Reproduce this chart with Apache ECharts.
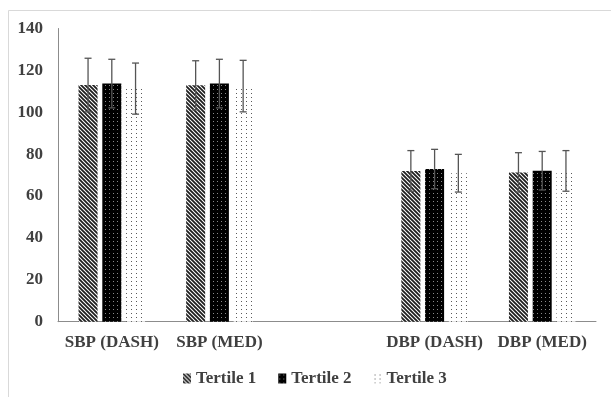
<!DOCTYPE html>
<html>
<head>
<meta charset="utf-8">
<script src="https://cdn.jsdelivr.net/npm/echarts@6/dist/echarts.min.js"></script>
<style>html,body{margin:0;padding:0;background:#fff}#c{width:611px;height:397px}</style>
</head>
<body>
<div id="c"></div>
<script>
// ---- data ----
const categories = ['SBP (DASH)', 'SBP (MED)', '', 'DBP (DASH)', 'DBP (MED)'];
const seriesNames = ['Tertile 1', 'Tertile 2', 'Tertile 3'];
const tertile1 = [113.0, 112.9, null, 72.0, 71.3];
const tertile2 = [113.7, 113.7, null, 72.9, 72.1];
const tertile3 = [111.3, 112.5, null, 70.9, 72.0];
const tertile1Err = [12.8, 11.7, null, 9.7, 9.4];
const tertile2Err = [11.6, 11.6, null, 9.4, 9.2];
const tertile3Err = [12.2, 12.3, null, 9.0, 9.7];
const yTicks = [0, 20, 40, 60, 80, 100, 120, 140];

// ---- patterns ----
function mk(w, h, draw) {
  const c = document.createElement('canvas');
  c.width = w; c.height = h;
  const g = c.getContext('2d');
  draw(g, w, h);
  return { image: c, repeat: 'repeat' };
}
const pat1 = mk(4, 4, (g, w, h) => {
  g.fillStyle = '#fff'; g.fillRect(0, 0, w, h);
  g.strokeStyle = '#1e1e1e'; g.lineWidth = 1.8;
  g.beginPath();
  g.moveTo(-1, -1); g.lineTo(5, 5);
  g.moveTo(3, -1); g.lineTo(5, 1);
  g.moveTo(-1, 3); g.lineTo(1, 5);
  g.stroke();
});
const pat2 = mk(4, 4, (g, w, h) => {
  g.fillStyle = '#000'; g.fillRect(0, 0, w, h);
  g.fillStyle = '#8a8a8a'; g.fillRect(1, 1, 1, 1);
});
const pat3 = mk(5, 4, (g, w, h) => {
  g.fillStyle = '#fff'; g.fillRect(0, 0, w, h);
  g.fillStyle = '#5a5a5a'; g.fillRect(1, 1, 1, 1);
});
const patterns = [pat1, pat2, pat3];
const values = [tertile1, tertile2, tertile3];
const errs = [tertile1Err, tertile2Err, tertile3Err];

const BAR_W = 19, GAP = 4.75;
const offsets = [-(BAR_W + GAP), 0, BAR_W + GAP];

const series = [];
seriesNames.forEach((n, i) => {
  series.push({
    name: n, type: 'bar', data: values[i], barWidth: BAR_W, barGap: (GAP / BAR_W * 100) + '%',
    itemStyle: { color: patterns[i] }, silent: true
  });
});
seriesNames.forEach((n, i) => {
  const d = values[i].map((v, k) => v == null ? null : [k, v, errs[i][k]]).filter(x => x);
  series.push({
    type: 'custom', silent: true, z: 5,
    data: d,
    encode: { x: 0, y: 1 },
    renderItem: function (params, api) {
      const k = api.value(0), v = api.value(1), e = api.value(2);
      const hi = api.coord([k, v + e]);
      const lo = api.coord([k, v - e]);
      const x = hi[0] + offsets[i];
      const cw = 3.5;
      const st = { stroke: '#555', lineWidth: 1.3 };
      return {
        type: 'group', children: [
          { type: 'line', shape: { x1: x, y1: hi[1], x2: x, y2: lo[1] }, style: st },
          { type: 'line', shape: { x1: x - cw, y1: hi[1], x2: x + cw, y2: hi[1] }, style: st },
          { type: 'line', shape: { x1: x - cw, y1: lo[1], x2: x + cw, y2: lo[1] }, style: st }
        ]
      };
    }
  });
});

const font = '"Liberation Serif", "Times New Roman", serif';
const chart = echarts.init(document.getElementById('c'), null, { renderer: 'canvas' });
chart.setOption({
  animation: false,
  backgroundColor: '#fff',
  graphic: [{
    type: 'rect', shape: { x: 8.5, y: 10.5, width: 610, height: 395 },
    style: { fill: 'none', stroke: '#d9d9d9', lineWidth: 1 }, silent: true, z: -1
  }],
  grid: { left: 58, right: 15, top: 28.5, bottom: 75.3, containLabel: false },
  legend: {
    data: seriesNames, left: 178, top: 365, itemWidth: 8, itemHeight: 10, itemGap: 22,
    icon: 'rect',
    textStyle: { fontFamily: font, fontWeight: 'bold', fontSize: 17, color: '#404040' }
  },
  xAxis: {
    type: 'category', data: categories,
    axisLine: { lineStyle: { color: '#8c8c8c', width: 1 } },
    axisTick: { show: false },
    axisLabel: { fontFamily: font, fontWeight: 'bold', fontSize: 17, color: '#404040', margin: 12, interval: 0 }
  },
  yAxis: {
    type: 'value', min: 0, max: 140, interval: 20,
    axisLine: { show: true, lineStyle: { color: '#8c8c8c', width: 1 } },
    axisTick: { show: false },
    splitLine: { show: false },
    axisLabel: {
      fontFamily: font, fontWeight: 'bold', fontSize: 17, color: '#404040', margin: 15,
      formatter: v => yTicks.includes(v) ? String(v) : ''
    }
  },
  series: series
});
</script>
</body>
</html>
